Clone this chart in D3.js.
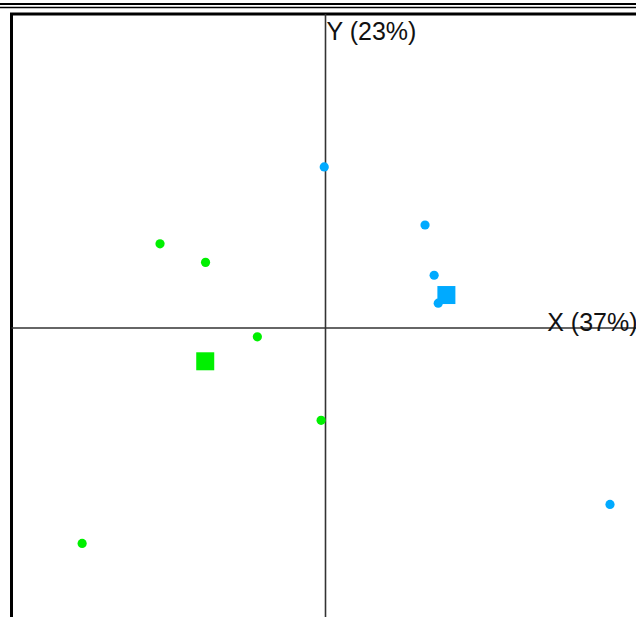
<!DOCTYPE html>
<html>
<head>
<meta charset="utf-8">
<script src="https://cdn.jsdelivr.net/npm/d3@7"></script>
<style>
  html, body { margin: 0; padding: 0; background: #fff; overflow: hidden; }
  svg { display: block; }
</style>
</head>
<body>
<div id="chart"></div>
<script>
// Two-group score plot with group centroids

const groups = ["green", "blue"];
const groupColors = ["#00f000", "#00aaff"];

const blueX = [-0.004, 0.317, 0.346, 0.359, 0.906];
const blueY = [0.513, 0.328, 0.168, 0.079, -0.562];
const greenX = [-0.527, -0.382, -0.217, -0.014, -0.775];
const greenY = [0.268, 0.209, -0.028, -0.294, -0.686];

// centroids (squares)
const centroidX = [-0.383, 0.385];
const centroidY = [-0.106, 0.105];

const axisLabels = ["X (37%)", "Y (23%)"];
const domain = [-1, 1];

const W = 636, H = 617;
const frame = { left: 11.5, top: 14, size: 628 };

const svg = d3.select("#chart").append("svg")
  .attr("width", W)
  .attr("height", H);

const x = d3.scaleLinear().domain(domain).range([frame.left, frame.left + frame.size]);
const y = d3.scaleLinear().domain(domain).range([frame.top + frame.size, frame.top]);

// double rule along the top
svg.append("line")
  .attr("x1", 0).attr("x2", W)
  .attr("y1", 4).attr("y2", 4)
  .attr("stroke", "#000").attr("stroke-width", 2);
svg.append("line")
  .attr("x1", 0).attr("x2", W)
  .attr("y1", 7.5).attr("y2", 7.5)
  .attr("stroke", "#000").attr("stroke-width", 1.5);

// plot frame (runs off the right and bottom of the window)
svg.append("rect")
  .attr("x", x(domain[0]))
  .attr("y", y(domain[1]))
  .attr("width", x(domain[1]) - x(domain[0]))
  .attr("height", y(domain[0]) - y(domain[1]))
  .attr("fill", "none")
  .attr("stroke", "#000")
  .attr("stroke-width", 3);

// axes through the origin
svg.append("line")
  .attr("x1", x(domain[0])).attr("x2", x(domain[1]))
  .attr("y1", y(0)).attr("y2", y(0))
  .attr("stroke", "#333").attr("stroke-width", 1.6);
svg.append("line")
  .attr("x1", x(0)).attr("x2", x(0))
  .attr("y1", y(domain[1])).attr("y2", y(domain[0]))
  .attr("stroke", "#333").attr("stroke-width", 1.6);

svg.append("text")
  .attr("x", x(domain[1]) - 2)
  .attr("y", y(0) + 3)
  .attr("text-anchor", "end")
  .attr("font-family", "'Liberation Sans', Arial, Helvetica, sans-serif")
  .attr("font-size", "25px")
  .attr("fill", "#111")
  .text(axisLabels[0]);

svg.append("text")
  .attr("x", x(0) + 1)
  .attr("y", y(domain[1]) + 26)
  .attr("text-anchor", "start")
  .attr("font-family", "'Liberation Sans', Arial, Helvetica, sans-serif")
  .attr("font-size", "25px")
  .attr("fill", "#111")
  .text(axisLabels[1]);

const points = [];
greenX.forEach((v, i) => points.push({ g: 0, x: v, y: greenY[i] }));
blueX.forEach((v, i) => points.push({ g: 1, x: v, y: blueY[i] }));

const centroids = groups.map((g, i) => ({ g: i, x: centroidX[i], y: centroidY[i] }));

const sq = 18;
svg.selectAll(".centroid")
  .data(centroids)
  .join("rect")
  .attr("class", "centroid")
  .attr("x", d => x(d.x) - sq / 2)
  .attr("y", d => y(d.y) - sq / 2)
  .attr("width", sq)
  .attr("height", sq)
  .attr("fill", d => groupColors[d.g]);

svg.selectAll(".pt")
  .data(points)
  .join("circle")
  .attr("class", "pt")
  .attr("cx", d => x(d.x))
  .attr("cy", d => y(d.y))
  .attr("r", 4.6)
  .attr("fill", d => groupColors[d.g]);
</script>
</body>
</html>
